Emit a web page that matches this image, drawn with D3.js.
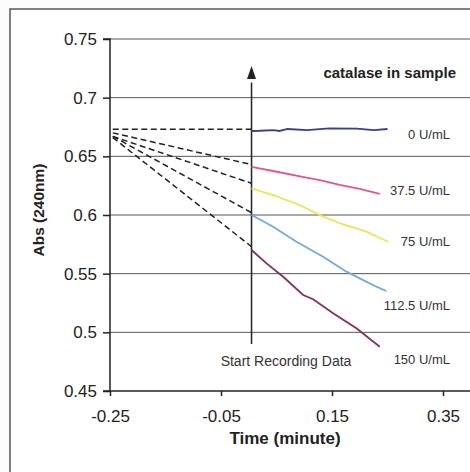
<!DOCTYPE html>
<meta charset="utf-8">
<head>
</head>
<body style="margin:0;background:#fcfcfc">
<style>
.grid line { stroke: #555; stroke-width: 1px; }
.axis text { font-family: Arial, "Liberation Sans", sans-serif; font-size: 17px; fill: #222; }
.axis path, .axis line { stroke: #222; stroke-width: 1.5px; }
.lbl { font-family: Arial, "Liberation Sans", sans-serif; font-size: 13px; fill: #333; }
</style>
<svg width="470" height="472"></svg>
<script src="https://d3js.org/d3.v7.min.js"></script>
<script>
// tick labels
var xTicks = [-0.25, -0.05, 0.15, 0.35];
var yTicks = [0.45, 0.5, 0.55, 0.6, 0.65, 0.7, 0.75];

// catalase levels
var labels = ["0 U/mL", "37.5 U/mL", "75 U/mL", "112.5 U/mL", "150 U/mL"];
var colors = ["#3a3f8a", "#dc5a8e", "#ece45c", "#74aad8", "#7e3262"];

// recorded data (time in minutes, absorbance)
var t0 = [0.005, 0.02, 0.045, 0.055, 0.07, 0.105, 0.145, 0.195, 0.225, 0.25];
var a0 = [0.6716, 0.6718, 0.6724, 0.6716, 0.6733, 0.6724, 0.6739, 0.6736, 0.6724, 0.6733];
var t1 = [0.005, 0.044, 0.104, 0.128, 0.164, 0.2, 0.236];
var a1 = [0.641, 0.6375, 0.6318, 0.6298, 0.6256, 0.6222, 0.6179];
var t2 = [0.005, 0.044, 0.092, 0.134, 0.164, 0.212, 0.251];
var a2 = [0.6227, 0.617, 0.6085, 0.5986, 0.593, 0.5858, 0.5772];
var t3 = [0.005, 0.044, 0.086, 0.134, 0.176, 0.2, 0.23, 0.248];
var a3 = [0.6, 0.59, 0.5772, 0.5645, 0.5517, 0.546, 0.5389, 0.5352];
var t4 = [0.005, 0.032, 0.062, 0.098, 0.116, 0.152, 0.194, 0.236];
var a4 = [0.5702, 0.5588, 0.5474, 0.5318, 0.5282, 0.5162, 0.5034, 0.4877];

// dashed back-extrapolation to t = -0.25
var dashT = [-0.245, 0.005];
var dashStart = [0.673, 0.670, 0.667, 0.667, 0.666];
var dashEnd = [0.673, 0.643, 0.627, 0.602, 0.573];

// label positions (value axis)
var labelY = [0.665, 0.617, 0.574, 0.519, 0.473];

var svg = d3.select("svg");

var x = d3.scaleLinear().domain([-0.25, 0.35]).range([110, 443]);
var y = d3.scaleLinear().domain([0.45, 0.75]).range([391, 39]);

function fmt(d) { return String(+d.toFixed(2)); }

// outer chart border
svg.append("rect")
  .attr("x", 10).attr("y", 9).attr("width", 480).attr("height", 480)
  .attr("fill", "#fff").attr("stroke", "#555").attr("stroke-width", 1.5);

// horizontal gridlines
svg.append("g").attr("class", "grid")
  .selectAll("line").data(yTicks.slice(1)).enter().append("line")
  .attr("x1", 110).attr("x2", 470)
  .attr("y1", function(d) { return y(d); })
  .attr("y2", function(d) { return y(d); });

svg.append("g").attr("class", "axis")
  .attr("transform", "translate(110,0)")
  .call(d3.axisLeft(y).tickValues(yTicks).tickSize(7).tickPadding(6).tickFormat(fmt))
  .call(function(g) { g.select(".domain").attr("d", "M-7,391H0V39H-7"); });

svg.append("g").attr("class", "axis")
  .attr("transform", "translate(0,391)")
  .call(d3.axisBottom(x).tickValues(xTicks).tickSize(5).tickPadding(14).tickFormat(fmt))
  .call(function(g) { g.select(".domain").attr("d", "M110,0H470"); });

// axis titles
svg.append("text")
  .attr("x", 285).attr("y", 444)
  .attr("text-anchor", "middle")
  .style("font-family", "Arial, 'Liberation Sans', sans-serif")
  .style("font-weight", "bold").style("font-size", "17px").style("fill", "#222")
  .text("Time (minute)");

svg.append("text")
  .attr("transform", "translate(44,210) rotate(-90)")
  .attr("text-anchor", "middle")
  .style("font-family", "Arial, 'Liberation Sans', sans-serif")
  .style("font-weight", "bold").style("font-size", "15.5px").style("fill", "#222")
  .text("Abs (240nm)");

// dashed lines
svg.append("g").selectAll("line").data(dashStart).enter().append("line")
  .attr("x1", x(dashT[0])).attr("x2", x(dashT[1]))
  .attr("y1", function(d) { return y(d); })
  .attr("y2", function(d, i) { return y(dashEnd[i]); })
  .attr("stroke", "#222").attr("stroke-width", 1.5)
  .attr("stroke-dasharray", "6,3.5");

// start-recording arrow
svg.append("line")
  .attr("x1", x(0.005)).attr("x2", x(0.005))
  .attr("y1", y(0.49)).attr("y2", y(0.713))
  .attr("stroke", "#222").attr("stroke-width", 1.5);
svg.append("path")
  .attr("d", d3.line()([[x(0.005) - 4.5, y(0.716)], [x(0.005), y(0.727)], [x(0.005) + 4.5, y(0.716)]]) + "Z")
  .attr("fill", "#222");

svg.append("text").attr("class", "lbl")
  .attr("x", 286).attr("y", 366).attr("text-anchor", "middle")
  .style("font-size", "14px")
  .text("Start Recording Data");

// recorded series
var times = [t0, t1, t2, t3, t4];
var vals = [a0, a1, a2, a3, a4];
var line = d3.line().curve(d3.curveLinear);
times.forEach(function(ts, i) {
  svg.append("path")
    .attr("d", line(ts.map(function(t, j) { return [x(t), y(vals[i][j])]; })))
    .attr("fill", "none")
    .attr("stroke", colors[i])
    .attr("stroke-width", 1.8);
});

// legend-like labels
svg.append("g").selectAll("text").data(labels).enter().append("text")
  .attr("class", "lbl")
  .attr("x", 450)
  .attr("y", function(d, i) { return y(labelY[i]); })
  .attr("text-anchor", "end")
  .text(function(d) { return d; });

svg.append("text")
  .attr("x", 456).attr("y", 78).attr("text-anchor", "end")
  .style("font-family", "Arial, 'Liberation Sans', sans-serif")
  .style("font-weight", "bold").style("font-size", "15px").style("fill", "#222")
  .text("catalase in sample");
</script>
</body>
